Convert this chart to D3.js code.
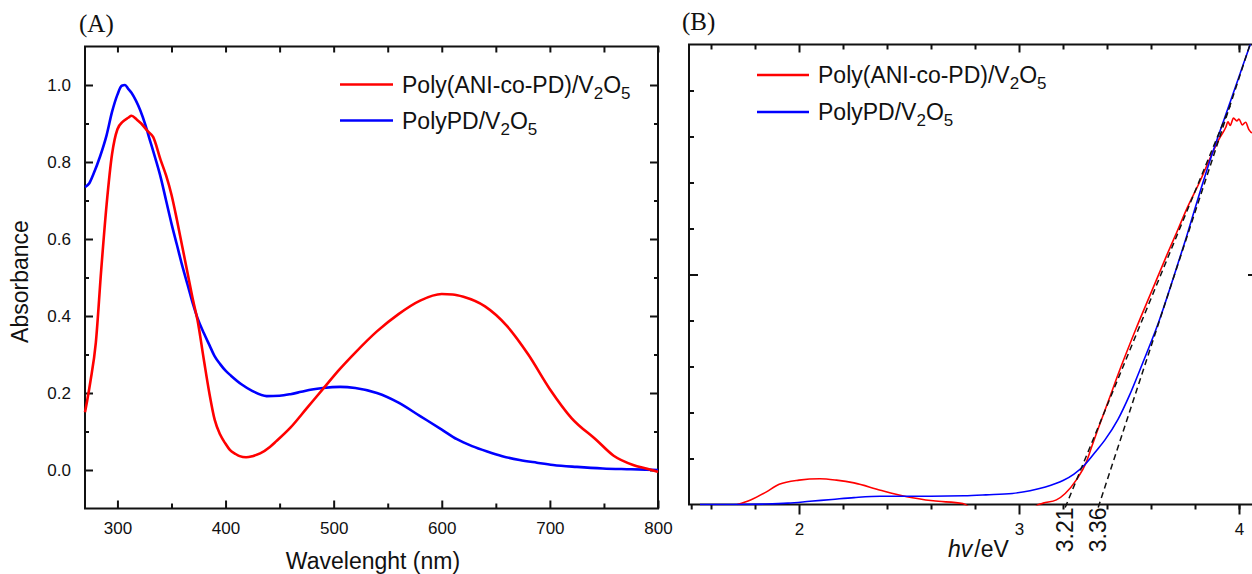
<!DOCTYPE html>
<html>
<head>
<meta charset="utf-8">
<script src="https://cdn.jsdelivr.net/npm/d3@7"></script>
<style>
  body { margin: 0; background: #fff; }
  svg { display: block; }
  text { font-family: Arial, "Liberation Sans", sans-serif; fill: #111; }
  .serif { font-family: "Times New Roman", "Liberation Serif", serif; }
</style>
</head>
<body>
<svg id="fig" width="1252" height="574"></svg>
<script>
// ---------- (A) UV-Vis absorbance spectra ----------
const seriesNames = ["Poly(ANI-co-PD)/V", "PolyPD/V"];

const copolyWavelength = [270, 272, 275, 280, 285, 290, 295, 300, 305, 310, 313, 318, 322, 328, 333, 340, 345, 350, 355, 360, 365, 370, 374, 380, 385, 390, 395, 400, 404, 409, 413, 419, 425, 432, 441, 447, 460, 475, 490, 505, 520, 540, 560, 580, 600, 610, 620, 640, 660, 680, 700, 720, 743, 759, 777, 790, 800];
const copolyAbsorbance = [0.15, 0.18, 0.23, 0.33, 0.52, 0.69, 0.82, 0.885, 0.905, 0.915, 0.92, 0.91, 0.9, 0.88, 0.865, 0.805, 0.765, 0.715, 0.65, 0.58, 0.51, 0.44, 0.39, 0.285, 0.2, 0.13, 0.092, 0.068, 0.052, 0.042, 0.036, 0.033, 0.036, 0.043, 0.06, 0.075, 0.11, 0.16, 0.21, 0.26, 0.305, 0.36, 0.405, 0.44, 0.457, 0.456, 0.45, 0.425, 0.375, 0.3, 0.21, 0.135, 0.078, 0.037, 0.013, 0.003, -0.005];

const polypdWavelength = [270, 274, 278, 284, 290, 295, 300, 304, 307, 310, 313, 317, 321, 326, 330, 335, 340, 345, 350, 355, 360, 365, 370, 374, 380, 385, 390, 395, 400, 405, 415, 425, 438, 450, 460, 470, 480, 490, 506, 520, 540, 560, 580, 600, 614, 628, 642, 656, 672, 688, 703, 725, 749, 775, 800];
const polypdAbsorbance = [0.735, 0.745, 0.77, 0.815, 0.87, 0.93, 0.975, 0.998, 1.0, 0.99, 0.98, 0.96, 0.935, 0.895, 0.857, 0.81, 0.76, 0.7, 0.64, 0.585, 0.53, 0.48, 0.43, 0.395, 0.355, 0.325, 0.295, 0.275, 0.258, 0.245, 0.222, 0.205, 0.192, 0.193, 0.197, 0.203, 0.209, 0.213, 0.216, 0.213, 0.2, 0.175, 0.14, 0.105, 0.08, 0.062, 0.048, 0.036, 0.026, 0.019, 0.013, 0.008, 0.004, 0.002, 0.0];

const wlMajorTicks = [300, 400, 500, 600, 700, 800];
const wlMinorTicks = [350, 450, 550, 650, 750];
const absMajorTicks = [0.0, 0.2, 0.4, 0.6, 0.8, 1.0];
const absMinorTicks = [0.1, 0.3, 0.5, 0.7, 0.9];

// ---------- (B) Tauc plot ----------
const copolyEnergy = [1.72, 1.78, 1.85, 1.91, 2.0, 2.095, 2.17, 2.25, 2.37, 2.49, 2.61, 2.745, 2.8, 3.05, 3.09, 3.11, 3.17, 3.21, 3.26, 3.305, 3.33, 3.36, 3.41, 3.46, 3.53, 3.6, 3.67, 3.72, 3.76, 3.82, 3.88, 3.91, 3.94, 3.95, 3.96, 3.975, 3.99, 4.0, 4.015, 4.03, 4.045, 4.06, 4.08];
const copolyTauc = [0.0, 0.01, 0.027, 0.044, 0.053, 0.056, 0.053, 0.047, 0.031, 0.017, 0.008, 0.002, -0.012, -0.012, 0.0, 0.003, 0.01, 0.024, 0.053, 0.091, 0.125, 0.165, 0.23, 0.295, 0.38, 0.46, 0.54, 0.595, 0.64, 0.7, 0.765, 0.795, 0.82, 0.832, 0.824, 0.84, 0.834, 0.838, 0.825, 0.831, 0.815, 0.808, 0.812];

const polypdEnergy = [1.55, 1.7, 1.85, 1.95, 2.05, 2.15, 2.25, 2.37, 2.49, 2.6, 2.75, 2.85, 2.97, 3.05, 3.12, 3.2, 3.25, 3.3, 3.35, 3.39, 3.45, 3.5, 3.56, 3.63, 3.7, 3.76, 3.82, 3.88, 3.96, 4.0, 4.04, 4.08];
const polypdTauc = [0.0, 0.0, 0.001, 0.003, 0.007, 0.011, 0.015, 0.018, 0.018, 0.018, 0.019, 0.021, 0.024, 0.03, 0.038, 0.052, 0.066, 0.087, 0.116, 0.14, 0.185, 0.235, 0.305, 0.39, 0.49, 0.58, 0.675, 0.765, 0.875, 0.93, 0.985, 1.04];

// linear extrapolations to the energy axis (optical band gaps)
const gapValues = [3.21, 3.36];
const gapLineTops = [[3.96, 0.867], [4.05, 1.0]];

const eMajorTicks = [2, 3, 4];
const eMinorTicks = [1.51, 1.6, 1.8, 2.2, 2.4, 2.6, 2.8, 3.2, 3.4, 3.6, 3.8, 4.0];
const taucMajorTicks = [0.5];
const taucMinorTicks = [0.1, 0.2, 0.3, 0.4, 0.6, 0.7, 0.8, 0.9];

const colors = ["#ff0000", "#0000ff"];

const svg = d3.select("#fig");

// ======================= Panel A =======================
const A = { left: 85, right: 658, top: 46.5, bottom: 508.5 };
const xA = d3.scaleLinear().domain([270, 800]).range([A.left, A.right]);
const yA = d3.scaleLinear().domain([-0.1, 1.1]).range([A.bottom, A.top]);

const gA = svg.append("g");

function styleAxis(g) {
  g.select(".domain").remove();
  g.selectAll(".tick line").attr("stroke", "#111").attr("stroke-width", 2);
  g.selectAll(".tick text").attr("fill", "#111").style("font-family", "Arial, 'Liberation Sans', sans-serif");
}

gA.append("g").attr("transform", `translate(0,${A.bottom})`)
  .call(d3.axisBottom(xA).tickValues(wlMajorTicks).tickSize(-8).tickPadding(13).tickFormat(d3.format("d")))
  .call(styleAxis).selectAll("text").style("font-size", "17px");
gA.append("g").attr("transform", `translate(0,${A.bottom})`)
  .call(d3.axisBottom(xA).tickValues(wlMinorTicks).tickSize(-5).tickFormat(""))
  .call(styleAxis);
gA.append("g").attr("transform", `translate(0,${A.top})`)
  .call(d3.axisTop(xA).tickValues(wlMajorTicks.concat(wlMinorTicks)).tickSize(-6).tickFormat(""))
  .call(styleAxis);

gA.append("g").attr("transform", `translate(${A.left},0)`)
  .call(d3.axisLeft(yA).tickValues(absMajorTicks).tickSize(-8).tickPadding(14).tickFormat(d3.format(".1f")))
  .call(styleAxis).selectAll("text").style("font-size", "17px");
gA.append("g").attr("transform", `translate(${A.left},0)`)
  .call(d3.axisLeft(yA).tickValues(absMinorTicks).tickSize(-4).tickFormat(""))
  .call(styleAxis);
gA.append("g").attr("transform", `translate(${A.right},0)`)
  .call(d3.axisRight(yA).tickValues(absMajorTicks).tickSize(-8).tickFormat(""))
  .call(styleAxis);
gA.append("g").attr("transform", `translate(${A.right},0)`)
  .call(d3.axisRight(yA).tickValues(absMinorTicks).tickSize(-4).tickFormat(""))
  .call(styleAxis);

gA.append("rect")
  .attr("x", A.left).attr("y", A.top)
  .attr("width", A.right - A.left).attr("height", A.bottom - A.top)
  .attr("fill", "none").attr("stroke", "#111").attr("stroke-width", 2);

const lineA = d3.line().curve(d3.curveMonotoneX)
  .x(d => xA(d[0])).y(d => yA(d[1]));

gA.append("path")
  .datum(d3.zip(polypdWavelength, polypdAbsorbance))
  .attr("d", lineA).attr("fill", "none").attr("stroke", colors[1]).attr("stroke-width", 2.6);
gA.append("path")
  .datum(d3.zip(copolyWavelength, copolyAbsorbance))
  .attr("d", lineA).attr("fill", "none").attr("stroke", colors[0]).attr("stroke-width", 2.6)
  .attr("stroke-linejoin", "round");

gA.append("text")
  .attr("transform", `translate(28,${(A.top + A.bottom) / 2 + 4}) rotate(-90)`)
  .attr("text-anchor", "middle").style("font-size", "23px").text("Absorbance");
gA.append("text")
  .attr("x", 373).attr("y", 569)
  .attr("text-anchor", "middle").style("font-size", "23px").text("Wavelenght (nm)");
gA.append("text").attr("class", "serif")
  .attr("x", 79).attr("y", 32).style("font-size", "25px").text("(A)");

function legendEntry(g, x, y, color, name, lineLen, fontSize) {
  g.append("line")
    .attr("x1", x).attr("x2", x + lineLen).attr("y1", y).attr("y2", y)
    .attr("stroke", color).attr("stroke-width", 2.6);
  const t = g.append("text")
    .attr("x", x + lineLen + 9).attr("y", y).attr("dy", "0.36em")
    .style("font-size", fontSize + "px");
  const sub = Math.round(fontSize * 0.72);
  const shift = Math.round(fontSize * 0.25);
  t.append("tspan").text(name);
  t.append("tspan").attr("dy", shift).style("font-size", sub + "px").text("2");
  t.append("tspan").attr("dy", -shift).text("O");
  t.append("tspan").attr("dy", shift).style("font-size", sub + "px").text("5");
}

legendEntry(gA, 340, 84.5, colors[0], seriesNames[0], 53, 23);
legendEntry(gA, 340, 120.5, colors[1], seriesNames[1], 53, 23);

// ======================= Panel B =======================
const B = { left: 689, right: 1257, top: 44.5, bottom: 504.5 };
const xB = d3.scaleLinear().domain([1.5, 1.5 + (B.right - B.left) / 220]).range([B.left, B.right]);
const yB = d3.scaleLinear().domain([0, 1]).range([B.bottom, B.top]);

const gB = svg.append("g");

gB.append("g").attr("transform", `translate(0,${B.bottom})`)
  .call(d3.axisBottom(xB).tickValues(eMajorTicks).tickSize(10).tickPadding(8).tickFormat(d3.format("d")))
  .call(styleAxis).selectAll("text").style("font-size", "17px");
gB.append("g").attr("transform", `translate(0,${B.bottom})`)
  .call(d3.axisBottom(xB).tickValues(eMinorTicks).tickSize(5).tickFormat(""))
  .call(styleAxis);
gB.append("g").attr("transform", `translate(0,${B.top})`)
  .call(d3.axisTop(xB).tickValues(eMajorTicks).tickSize(-8).tickFormat(""))
  .call(styleAxis);
gB.append("g").attr("transform", `translate(0,${B.top})`)
  .call(d3.axisTop(xB).tickValues(eMinorTicks.slice(1)).tickSize(-5).tickFormat(""))
  .call(styleAxis);

[[B.left, d3.axisLeft], [B.right, d3.axisRight]].forEach(([xpos, ax]) => {
  gB.append("g").attr("transform", `translate(${xpos},0)`)
    .call(ax(yB).tickValues(taucMajorTicks).tickSize(-9).tickFormat(""))
    .call(styleAxis);
  gB.append("g").attr("transform", `translate(${xpos},0)`)
    .call(ax(yB).tickValues(taucMinorTicks).tickSize(-5).tickFormat(""))
    .call(styleAxis);
});

gB.append("rect")
  .attr("x", B.left).attr("y", B.top)
  .attr("width", B.right - B.left).attr("height", B.bottom - B.top)
  .attr("fill", "none").attr("stroke", "#111").attr("stroke-width", 2);

svg.append("defs").append("clipPath").attr("id", "clipB")
  .append("rect").attr("x", B.left).attr("y", B.top)
  .attr("width", B.right - B.left).attr("height", B.bottom - B.top + 1);

const plotB = gB.append("g").attr("clip-path", "url(#clipB)");
const lineB = d3.line().curve(d3.curveMonotoneX)
  .x(d => xB(d[0])).y(d => yB(d[1]));

plotB.append("path")
  .datum(d3.zip(copolyEnergy, copolyTauc))
  .attr("d", lineB).attr("fill", "none").attr("stroke", colors[0]).attr("stroke-width", 1.6);
plotB.append("path")
  .datum(d3.zip(polypdEnergy, polypdTauc))
  .attr("d", lineB).attr("fill", "none").attr("stroke", colors[1]).attr("stroke-width", 1.6);

gapValues.forEach((g, i) => {
  gB.append("line")
    .attr("x1", xB(g)).attr("y1", yB(0) + 3)
    .attr("x2", xB(gapLineTops[i][0])).attr("y2", yB(gapLineTops[i][1]))
    .attr("stroke", "#111").attr("stroke-width", 1.5).attr("stroke-dasharray", "6,4");
  gB.append("text")
    .attr("transform", `translate(${xB(g)},${B.bottom + 3}) rotate(-90)`)
    .attr("text-anchor", "end").attr("dy", "0.36em")
    .style("font-size", "23px").text(d3.format(".2f")(g));
});

const axisTitleB = gB.append("text").attr("x", 948).attr("y", 557).style("font-size", "23px");
axisTitleB.append("tspan").style("font-style", "italic").text("hv");
axisTitleB.append("tspan").attr("dx", 2).text("/eV");

gB.append("text").attr("class", "serif")
  .attr("x", 682).attr("y", 30).style("font-size", "25px").text("(B)");

legendEntry(gB, 757, 75, colors[0], seriesNames[0], 52, 23);
legendEntry(gB, 757, 112, colors[1], seriesNames[1], 52, 23);
</script>
</body>
</html>
